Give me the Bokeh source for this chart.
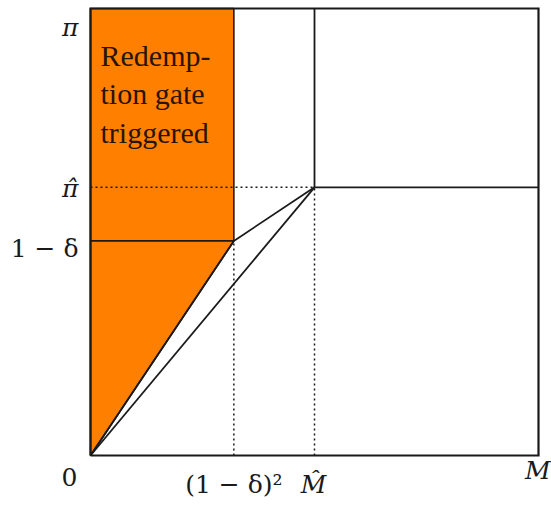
from bokeh.plotting import figure
from bokeh.models import Range1d, Label, ColumnDataSource
from bokeh.embed import file_html
from bokeh.resources import INLINE

# Key positions (M = 1, pi = 1)
M = 1.0
M_hat = 0.50
x_gate = 0.32          # (1 - delta)^2
PI = 1.0
pi_hat = 0.60
one_minus_delta = 0.48

gate_lines = ["Redemp-", "tion gate", "triggered"]
x_tick_labels = ["0", "(1 − δ)²", "M̂", "M"]
y_tick_labels = ["π", "π̂", "1 − δ"]

ORANGE = "#FF8000"
INK = "#1a1a1a"
FONT = "Liberation Serif"
MATH = "DejaVu Serif"

W, H = 551, 505
# the plotting box occupies pixels x 90..538, y 8..455 of the canvas
BX0, BX1, BY0, BY1 = 90, 538, 8, 455
sx = (BX1 - BX0) / M
sy = (BY1 - BY0) / PI
xr = Range1d(-BX0 / sx, M + (W - BX1) / sx)
yr = Range1d(-(H - BY1) / sy, PI + BY0 / sy)

p = figure(width=W, height=H, output_backend="svg", toolbar_location=None,
           x_range=xr, y_range=yr,
           x_axis_location=None, y_axis_location=None,
           min_border=0, min_border_left=0, min_border_right=0,
           min_border_top=0, min_border_bottom=0)
p.grid.visible = False
p.outline_line_color = None
p.background_fill_color = "white"
p.border_fill_color = "white"

# Orange region: redemption gate triggered
p.patch([0, x_gate, x_gate, 0], [0, one_minus_delta, PI, PI],
        fill_color=ORANGE, line_color=INK, line_width=1.6)

# dotted guide lines
dots = ColumnDataSource(dict(
    xs=[[0, M_hat], [x_gate, x_gate], [M_hat, M_hat]],
    ys=[[pi_hat, pi_hat], [0, one_minus_delta], [0, pi_hat]],
))
p.multi_line("xs", "ys", source=dots, line_color=INK, line_width=1.5,
             line_dash="2 3")

# solid lines
solid = ColumnDataSource(dict(
    xs=[[0, x_gate], [x_gate, M_hat], [0, M_hat], [M_hat, M_hat],
        [M_hat, M], [0, x_gate]],
    ys=[[0, one_minus_delta], [one_minus_delta, pi_hat], [0, pi_hat],
        [pi_hat, PI], [pi_hat, pi_hat], [one_minus_delta, one_minus_delta]],
))
p.multi_line("xs", "ys", source=solid, line_color=INK, line_width=1.8)

# outer box
p.line([0, M, M, 0, 0], [0, 0, PI, PI, 0], line_color=INK, line_width=2.2,
       line_join="miter")

# text inside orange region
p.add_layout(Label(x=0, y=PI, x_offset=10, y_offset=-30,
                   text="\n".join(gate_lines), text_font=FONT,
                   text_font_size="30px", text_color="#2a1400",
                   text_align="left", text_baseline="top",
                   text_line_height=1.18))

# y labels
y_vals = [PI, pi_hat, one_minus_delta]
y_offs = [-19, -1, -8]
y_styles = ["italic", "italic", "normal"]
for v, t, off, st in zip(y_vals, y_tick_labels, y_offs, y_styles):
    p.add_layout(Label(x=0, y=v, x_offset=-12, y_offset=off, text=t,
                       text_font=MATH, text_font_size="25px",
                       text_font_style=st, text_color=INK,
                       text_align="right", text_baseline="middle"))

# x labels
x_vals = [0, x_gate, M_hat, M]
x_offs = [-21, 0, -1, 12]
y_offs_x = [-21, -29, -29, -15]
aligns = ["center", "center", "center", "right"]
x_styles = ["normal", "normal", "italic", "italic"]
for v, t, xo, yo, al, st in zip(x_vals, x_tick_labels, x_offs, y_offs_x, aligns, x_styles):
    p.add_layout(Label(x=v, y=0, x_offset=xo, y_offset=yo, text=t,
                       text_font=MATH, text_font_size="25px",
                       text_font_style=st, text_color=INK,
                       text_align=al, text_baseline="middle"))

open("out.html", "w").write(file_html(p, INLINE))
